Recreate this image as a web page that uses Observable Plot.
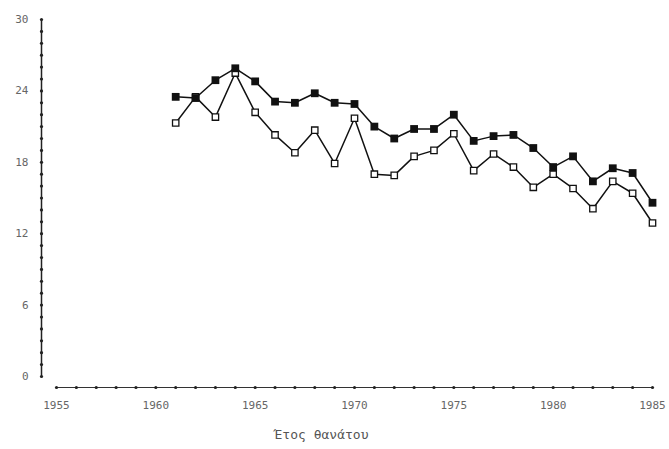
<!DOCTYPE html>
<html>
<head>
<meta charset="utf-8">
<script src="https://cdn.jsdelivr.net/npm/d3@7"></script>
<script src="https://cdn.jsdelivr.net/npm/@observablehq/plot@0.6"></script>
<style>
  html, body { margin: 0; padding: 0; background: #fff; }
  #chart svg { display: block; }
</style>
</head>
<body>
<div id="chart"></div>
<script>
const years = [1961,1962,1963,1964,1965,1966,1967,1968,1969,1970,1971,1972,1973,1974,1975,1976,1977,1978,1979,1980,1981,1982,1983,1984,1985];
const filledValues = [23.5,23.4,24.9,25.9,24.8,23.1,23.0,23.8,23.0,22.9,21.0,20.0,20.8,20.8,22.0,19.8,20.2,20.3,19.2,17.6,18.5,16.4,17.5,17.1,14.6];
const openValues = [21.3,23.5,21.8,25.5,22.2,20.3,18.8,20.7,17.9,21.7,17.0,16.9,18.5,19.0,20.4,17.3,18.7,17.6,15.9,17.0,15.8,14.1,16.4,15.4,12.9];
const xTicks = [1955,1960,1965,1970,1975,1980,1985];
const yTicks = [0,6,12,18,24,30];
const xLabel = "Έτος θανάτου";

const filled = years.map((y, i) => ({year: y, value: filledValues[i]}));
const open = years.map((y, i) => ({year: y, value: openValues[i]}));
const xMinor = d3.range(1955, 1986);
const yMinor = d3.range(0, 31);

const font = "'DejaVu Sans Mono', monospace";

const chart = Plot.plot({
  width: 669,
  height: 449,
  marginLeft: 56,
  marginRight: 17,
  marginTop: 19,
  marginBottom: 73,
  style: {fontFamily: font, fontSize: "11px", color: "#555", background: "#fff"},
  x: {domain: [1955, 1985]},
  y: {domain: [0, 30]},
  marks: [
    // y axis line and dotted ticks
    Plot.ruleX([1955], {y1: 0, y2: 30, dx: -15, stroke: "#222", strokeWidth: 1.5}),
    Plot.dot(yMinor, {x: () => 1955, y: d => d, dx: -15, r: 1.6, fill: "#222", stroke: null}),
    Plot.axisY({ticks: yTicks, tickSize: 0, tickPadding: 28, label: null, fill: "#666"}),
    // x axis line and dotted ticks
    Plot.ruleY([0], {x1: 1955, x2: 1985, dy: 11, stroke: "#333", strokeWidth: 1}),
    Plot.dot(xMinor, {x: d => d, y: () => 0, dy: 11, r: 1.6, fill: "#222", stroke: null}),
    Plot.axisX({ticks: xTicks, tickFormat: d => String(d), tickSize: 0, tickPadding: 25, label: null, fill: "#666"}),
    Plot.text([xLabel], {frameAnchor: "bottom", dx: -33, dy: 62, fontSize: 13, fill: "#555"}),
    // series
    Plot.line(open, {x: "year", y: "value", stroke: "#111", strokeWidth: 1.5}),
    Plot.line(filled, {x: "year", y: "value", stroke: "#111", strokeWidth: 1.5}),
    Plot.dot(open, {x: "year", y: "value", symbol: "square", r: 3.6, fill: "#fff", stroke: "#111", strokeWidth: 1.3}),
    Plot.dot(filled, {x: "year", y: "value", symbol: "square", r: 4.4, fill: "#111", stroke: null})
  ]
});
document.getElementById("chart").append(chart);
</script>
</body>
</html>
